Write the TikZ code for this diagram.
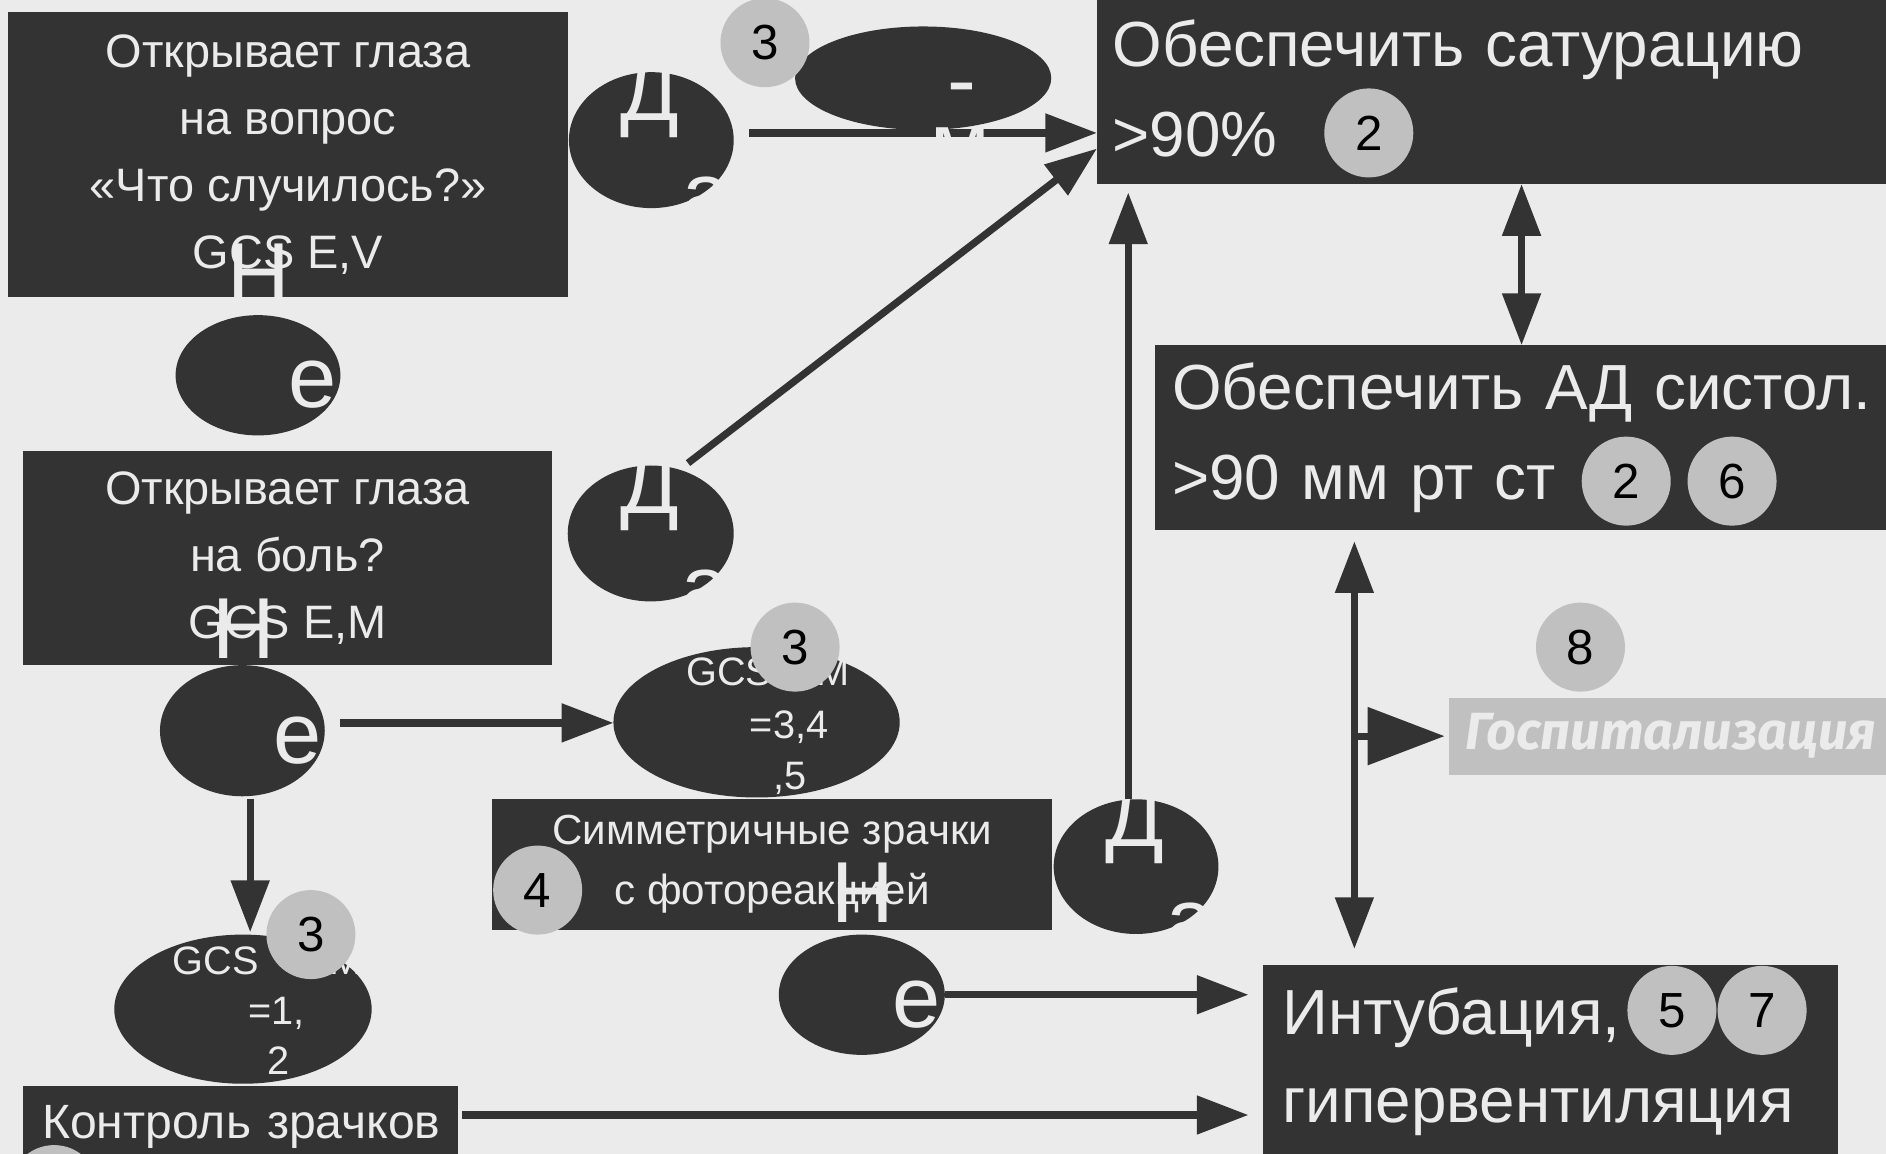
\documentclass[tikz,border=0pt]{standalone}
\usepackage{fontspec}
\setmainfont{Liberation Sans}
\newfontfamily\hospfont{Fira Sans}
\usetikzlibrary{arrows.meta, shapes.geometric}
\definecolor{bgcol}{HTML}{EBEBEB}
\definecolor{darkfill}{HTML}{333333}
\definecolor{badgefill}{HTML}{C0C0C0}
\definecolor{lighttext}{HTML}{EBEBEB}
\newcommand{\ovl}[3]{\rlap{\hspace*{#1pt}\smash{\raisebox{-#2pt}{#3}}}}
\newcommand{\da}{\ovl{-25.5}{-16.5}{Д}\ovl{25.5}{69}{а}}
\newcommand{\net}{\ovl{-25}{-60}{Н}\ovl{25.5}{27}{е}\ovl{72}{27}{т}}
\tikzset{
  box/.style={rectangle, fill=darkfill, text=lighttext, inner ysep=0pt, outer sep=0pt, anchor=north west},
  yesno/.style={ellipse, fill=darkfill, text=lighttext, inner sep=0pt, outer sep=0pt, font=\fontsize{72}{86}\selectfont},
  gcs/.style={ellipse, fill=darkfill, text=lighttext, inner sep=0pt, outer sep=0pt, font=\fontsize{33}{42}\selectfont},
  badge/.style={circle, fill=badgefill, text=black, inner sep=0pt, outer sep=0pt, minimum size=74pt, font=\fontsize{41}{41}\selectfont},
  flow/.style={-{Triangle[length=43pt, width=31pt]}, line width=6pt, draw=darkfill},
  dflow/.style={{Triangle[length=43pt, width=31pt]}-{Triangle[length=43pt, width=31pt]}, line width=6pt, draw=darkfill},
  bigflow/.style={-{Triangle[length=64pt, width=47pt]}, line width=6pt, draw=darkfill}
}
\begin{document}
\begin{tikzpicture}[x=1pt, y=-1pt]
\useasboundingbox (0,0) rectangle (1568,959);
\clip (0,0) rectangle (1568,959);
\fill[bgcol] (0,0) rectangle (1568,959);

\node[box, minimum width=465pt, minimum height=237pt, align=center, font=\fontsize{39}{55.5}\selectfont] (askq) at (7,10) {Открывает глаза\\на вопрос\\«Что случилось?»\\GCS E,V};
\node[yesno, minimum width=137pt, minimum height=100pt] (net1) at (214.5,312) {\net};
\node[yesno, minimum width=137pt, minimum height=113pt] (da1) at (541.5,116.5) {\da};

\node[box, minimum width=440pt, minimum height=178pt, align=center, font=\fontsize{39}{55.5}\selectfont] (askp) at (19,375) {Открывает глаза\\на боль?\\GCS E,M};
\node[yesno, minimum width=137pt, minimum height=109pt] (net2) at (201.5,607.5) {\net};
\node[yesno, minimum width=138pt, minimum height=113pt] (da2) at (541,443.5) {\da};

\node[gcs, minimum width=238pt, minimum height=125pt] (gcs1) at (629,600.5) {\ovl{-58.5}{-30.5}{GCS}\ovl{50}{-30.5}{M}\ovl{-5.5}{13.5}{=3,4}\ovl{14}{55.5}{,5}};
\node[badge] (n3b) at (661,538) {3};
\node[gcs, minimum width=214pt, minimum height=124pt] (gcs2) at (202,839) {\ovl{-58.5}{-29}{GCS}\ovl{72}{-29}{M}\ovl{4.5}{13}{=1,}\ovl{20}{54}{2}};
\node[badge] (n3c) at (258.5,777) {3};

\node[box, minimum width=466pt, minimum height=109pt, align=center, font=\fontsize{35}{50}\selectfont] (pupil) at (409,664) {Симметричные зрачки\\с фотореакцией};
\node[badge] (n4) at (447,740) {4};
\node[yesno, minimum width=138pt, minimum height=100pt] (net3) at (716.5,827) {\net};
\node[yesno, minimum width=137pt, minimum height=112pt] (da3) at (944.5,720.5) {\da};

\node[box, minimum width=362pt, minimum height=68pt, text width=334pt, inner xsep=14pt, align=left, font=\fontsize{40}{48}\selectfont] (ctrl) at (19,903) {\hspace*{2pt}Контроль зрачков};
\node[badge] (n0) at (45,989) {};

\node[box, minimum width=700pt, minimum height=159pt, text width=674pt, inner xsep=13pt, align=left, font=\fontsize{53}{75}\selectfont] (sat) at (912,-6) {Обеспечить сатурацию\\>90\%};
\node[badge] (n2a) at (1138,110.5) {2};
\node[box, minimum width=650pt, minimum height=154pt, text width=621pt, inner xsep=14.5pt, align=left, font=\fontsize{53}{75}\selectfont] (bp) at (960,287) {Обеспечить АД систол.\\>90 мм рт ст};
\node[badge] (n2b) at (1352,400) {2};
\node[badge] (n6) at (1440,400) {6};
\node[box, minimum width=478pt, minimum height=161pt, text width=446pt, inner xsep=16pt, align=left, font=\fontsize{53}{73}\selectfont] (intub) at (1050,802) {Интубация,\\гипервентиляция};
\node[badge] (n5) at (1390,840) {5};
\node[badge] (n7) at (1465,840) {7};
\node[box, fill=badgefill, minimum width=400pt, minimum height=64pt, text width=374pt, inner xsep=13pt, align=left, font=\hospfont\bfseries\itshape\fontsize{43.5}{50}\selectfont] (hosp) at (1205,580) {Госпитализация};
\node[badge] (n8) at (1314,538) {8};

\coordinate (a1s) at ([shift={(13,-6)}]da1.east);
\draw[flow] (a1s) -- (a1s -| sat.west);
\draw[flow] ([shift={(31,-58.5)}]da2.center) -- ([shift={(0,50)}]sat.west);
\coordinate (a3s) at ([xshift=-6.5pt]da3.north);
\draw[flow, shorten >=7pt] (a3s) -- (a3s |- sat.south);
\coordinate (sat-bp) at (1265,0);
\draw[dflow] (sat.south -| sat-bp) -- (bp.north -| sat-bp);
\coordinate (bp-int) at (1126,0);
\draw[dflow, shorten <=9pt, shorten >=13pt] (bp.south -| bp-int) -- (intub.north -| bp-int);
\draw[bigflow, shorten >=4pt] (bp-int |- hosp.west) -- (hosp.west);
\coordinate (a7s) at ([shift={(13,-6.5)}]net2.east);
\draw[flow] (a7s) -- (a7s -| gcs1.west);
\coordinate (a8s) at ([shift={(6.5,2)}]net2.south);
\draw[flow, shorten >=2pt] (a8s) -- (a8s |- gcs2.north);
\draw[flow, shorten >=12pt] (net3.east) -- (net3.east -| intub.west);
\coordinate (a10s) at ([shift={(3,24)}]ctrl.north east);
\draw[flow, shorten >=12pt] (a10s) -- (a10s -| intub.west);

\node[yesno, minimum width=213pt, minimum height=86pt] (topoval) at (767.5,65) {\ovl{20.5}{26}{-}\ovl{6.5}{79}{м}};
\node[badge] (n3a) at (636,35.5) {3};

\end{tikzpicture}
\end{document}
